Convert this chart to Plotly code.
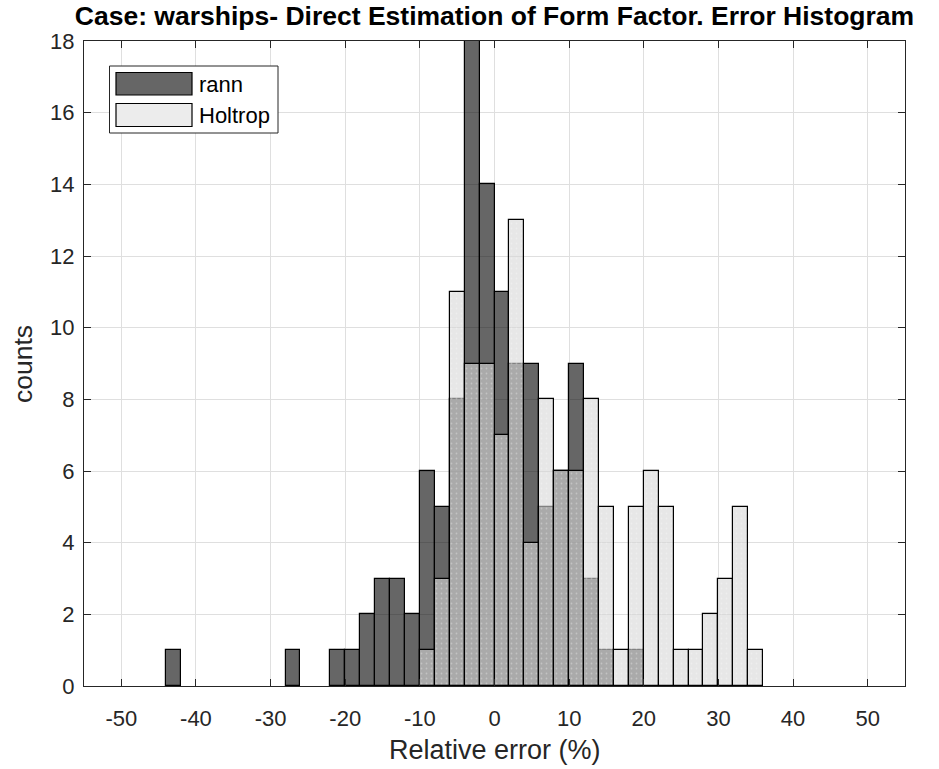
import plotly.graph_objects as go

# ---- data ----
bin_centers = [-43, -41, -39, -37, -35, -33, -31, -29, -27, -25, -23, -21, -19, -17, -15, -13,
               -11, -9, -7, -5, -3, -1, 1, 3, 5, 7, 9, 11, 13, 15, 17, 19, 21, 23, 25, 27,
               29, 31, 33, 35]
rann_counts = [1, 0, 0, 0, 0, 0, 0, 0, 1, 0, 0, 1, 1, 2, 3, 3,
               2, 6, 5, 8, 18, 14, 11, 9, 9, 5, 6, 9, 3, 1, 0, 1, 0, 0, 0, 0,
               0, 0, 0, 0]
holtrop_counts = [0, 0, 0, 0, 0, 0, 0, 0, 0, 0, 0, 0, 0, 0, 0, 0,
                  0, 1, 3, 11, 9, 9, 7, 13, 4, 8, 6, 6, 8, 5, 1, 5, 6, 5, 1, 1,
                  2, 3, 5, 1]
bin_width = 2
series_names = ["rann", "Holtrop"]
x_tick_vals = [-50, -40, -30, -20, -10, 0, 10, 20, 30, 40, 50]
x_tick_text = ["-50", "-40", "-30", "-20", "-10", "0", "10", "20", "30", "40", "50"]
y_tick_vals = [0, 2, 4, 6, 8, 10, 12, 14, 16, 18]
title_text = "Case: warships- Direct Estimation of Form Factor. Error Histogram"
x_label = "Relative error (%)"
y_label = "counts"

# ---- style ----
W, H = 939, 769
L, R, T, B = 84, 905, 41, 686
AX = "#262626"
GRID = "#dfdfdf"
FONT = "Liberation Sans, Arial, Helvetica, sans-serif"
RANN_FILL = "rgba(0,0,0,0.6)"
HOLT_FILL = "rgba(215,215,215,0.6)"


def px(x):
    return (x - L) / (R - L)


def py(y):
    return (B - y) / (B - T)


def nz(vals):
    return [v if v > 0 else None for v in vals]


fig = go.Figure()
fig.add_trace(go.Bar(
    x=bin_centers, y=nz(rann_counts), width=bin_width, name=series_names[0],
    marker=dict(color=RANN_FILL, line=dict(color="black", width=1.2)),
    showlegend=False,
))
fig.add_trace(go.Bar(
    x=bin_centers, y=nz(holtrop_counts), width=bin_width, name=series_names[1],
    marker=dict(color=HOLT_FILL, line=dict(color="black", width=1.2),
                pattern=dict(shape=".", fgcolor="white", fgopacity=0.3, size=5, solidity=0.1)),
    showlegend=False,
))

axis_common = dict(
    showline=True, linecolor=AX, linewidth=1.2, mirror="ticks",
    ticks="inside", ticklen=7, tickcolor=AX, tickwidth=1,
    showgrid=True, gridcolor=GRID, gridwidth=1, zeroline=False,
    tickfont=dict(family=FONT, size=22, color=AX),
)

fig.update_layout(
    width=W, height=H,
    margin=dict(l=L, r=W - R, t=T, b=H - B),
    paper_bgcolor="white", plot_bgcolor="white",
    barmode="overlay", bargap=0,
    xaxis=dict(range=[-55, 55], tickvals=x_tick_vals, ticktext=x_tick_text,
               ticklabelstandoff=12, **axis_common),
    yaxis=dict(range=[0, 18], tickvals=y_tick_vals, ticklabelstandoff=4, **axis_common),
    title=dict(text=title_text, x=0.5, xref="paper", xanchor="center",
               y=1 - 16 / H, yref="container", yanchor="middle",
               font=dict(family=FONT, size=26.5, color="black", weight="bold")),
)

ann = []
ann.append(dict(text=x_label, x=0.5, y=py(750), xref="paper", yref="paper",
                xanchor="center", yanchor="middle", showarrow=False,
                font=dict(family=FONT, size=27, color=AX)))
ann.append(dict(text=y_label, x=px(23), y=py(364), xref="paper", yref="paper",
                xanchor="center", yanchor="middle", showarrow=False, textangle=-90,
                font=dict(family=FONT, size=26.5, color=AX)))

# ---- legend (drawn manually to match the wide MATLAB swatches) ----
shapes = []
shapes.append(dict(type="rect", xref="paper", yref="paper",
                   x0=px(109.5), x1=px(278), y0=py(133), y1=py(66),
                   line=dict(color=AX, width=1), fillcolor="white", layer="above"))
shapes.append(dict(type="rect", xref="paper", yref="paper",
                   x0=px(116), x1=px(192), y0=py(95), y1=py(72.5),
                   line=dict(color="black", width=1.2), fillcolor=RANN_FILL, layer="above"))
shapes.append(dict(type="rect", xref="paper", yref="paper",
                   x0=px(116), x1=px(192), y0=py(126.5), y1=py(103.5),
                   line=dict(color="black", width=1.2), fillcolor="rgba(236,236,236,1)", layer="above"))
ann.append(dict(text=series_names[0], x=px(197), y=py(84), xref="paper", yref="paper",
                xanchor="left", yanchor="middle", showarrow=False,
                font=dict(family=FONT, size=22, color="black")))
ann.append(dict(text=series_names[1], x=px(197), y=py(115), xref="paper", yref="paper",
                xanchor="left", yanchor="middle", showarrow=False,
                font=dict(family=FONT, size=22, color="black")))

fig.update_layout(annotations=ann, shapes=shapes)
fig.write_html("out.html")
